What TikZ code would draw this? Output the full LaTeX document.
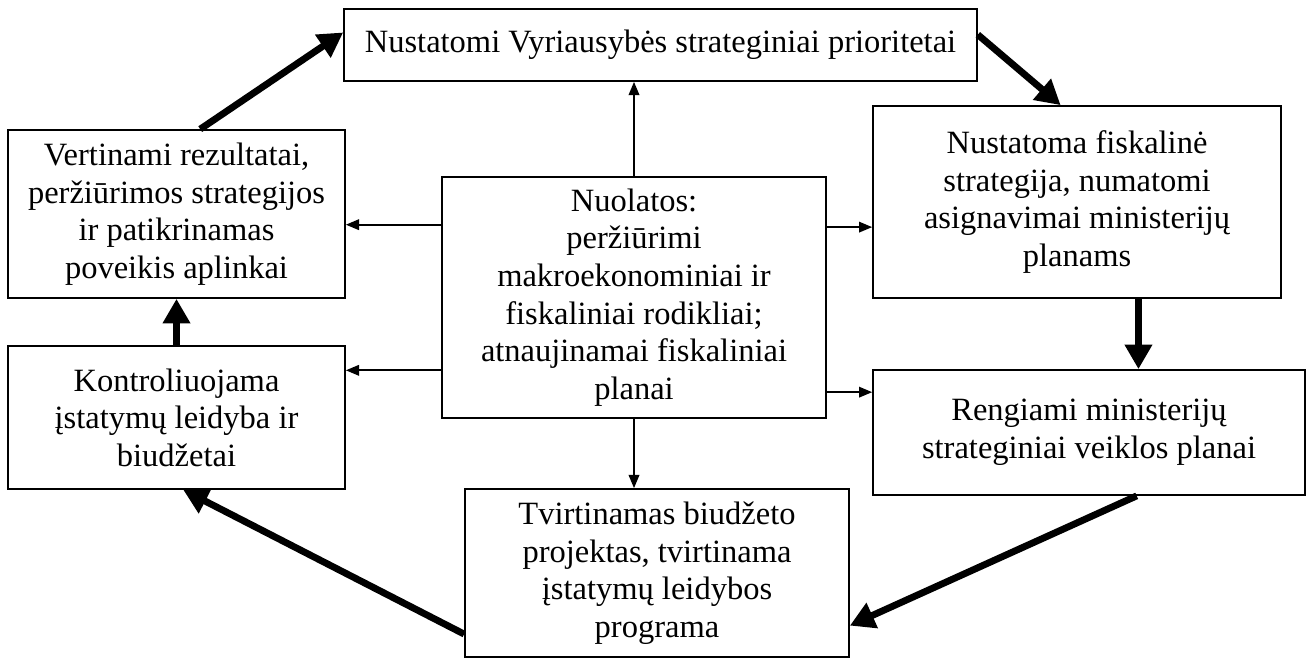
\documentclass[tikz,border=0pt]{standalone}
\usepackage{fontspec}
\setmainfont{Liberation Serif}
\usetikzlibrary{arrows.meta,calc}
\tikzset{
  every picture/.style={
    line width=1pt
  },
  stage/.style={
    draw, rectangle, inner sep=0pt, align=center,
    font=\fontsize{18.5pt}{21.4pt}\selectfont
  },
  thin arrow/.style={
    -{Triangle[length=7.5pt, width=6pt]}
  },
  thick arrow/.style={
    line width=3.9pt,
    -{Triangle[length=14pt, width=15pt]}
  }
}

\begin{document}
\begin{tikzpicture}[x=0.02cm, y=-0.02cm]
  \useasboundingbox (0,0) rectangle (1310,659);
  \node[stage, minimum width=12.66cm, minimum height=1.44cm] (prio) at (660.5,45)
    {\raisebox{3pt}{Nustatomi Vyriausybės strateginiai prioritetai}};
  \node[stage, minimum width=8.16cm, minimum height=3.84cm] (fiskal) at (1077,202)
    {Nustatoma fiskalinė\\strategija, numatomi\\asignavimai ministerijų\\planams};
  \node[stage, minimum width=8.64cm, minimum height=2.5cm] (planai) at (1089,432.5)
    {Rengiami ministerijų\\strateginiai veiklos planai};
  \node[stage, minimum width=7.68cm, minimum height=3.36cm] (projektas) at (657,573)
    {Tvirtinamas biudžeto\\projektas, tvirtinama\\įstatymų leidybos\\programa};
  \node[stage, minimum width=6.74cm, minimum height=2.86cm] (kontrole) at (176.5,417.5)
    {Kontroliuojama\\įstatymų leidyba ir\\biudžetai};
  \node[stage, minimum width=6.74cm, minimum height=3.36cm] (vertinimas) at (176.5,214)
    {Vertinami rezultatai,\\peržiūrimos strategijos\\ir patikrinamas\\poveikis aplinkai};
  \node[stage, minimum width=7.68cm, minimum height=4.82cm] (nuolatos) at (634,297.5)
    {Nuolatos:\\peržiūrimi\\makroekonominiai ir\\fiskaliniai rodikliai;\\atnaujinamai fiskaliniai\\planai};

  \draw[thin arrow] (nuolatos.north) -- (nuolatos.north |- prio.south);
  \draw[thin arrow] (nuolatos.south) -- (nuolatos.south |- projektas.north);
  \coordinate (w1) at ($(nuolatos.north west)!0.2!(nuolatos.south west)$);
  \coordinate (w2) at ($(nuolatos.north west)!0.8!(nuolatos.south west)$);
  \coordinate (e1) at ($(nuolatos.north east)!0.21!(nuolatos.south east)$);
  \coordinate (e2) at ($(nuolatos.north east)!0.89!(nuolatos.south east)$);
  \draw[thin arrow] (w1) -- (w1 -| vertinimas.east);
  \draw[thin arrow] (w2) -- (w2 -| kontrole.east);
  \draw[thin arrow] (e1) -- (e1 -| fiskal.west);
  \draw[thin arrow] (e2) -- (e2 -| planai.west);

  \draw[thick arrow] ($(vertinimas.north west)!0.57!(vertinimas.north east)$)
    -- ($(prio.north west)!0.33!(prio.south west)$);
  \draw[thick arrow] ($(prio.north east)!0.36!(prio.south east)$)
    -- ($(fiskal.north west)!0.46!(fiskal.north east)$);
  \coordinate (f1) at ($(fiskal.south west)!0.65!(fiskal.south east)$);
  \draw[thick arrow] (f1) -- (f1 |- planai.north);
  \draw[thick arrow] ($(planai.south west)!0.61!(planai.south east)$)
    -- ($(projektas.north east)!0.81!(projektas.south east)$);
  \draw[thick arrow] ($(projektas.north west)!0.86!(projektas.south west)$)
    -- ($(kontrole.south west)!0.52!(kontrole.south east)$);
  \draw[thick arrow] (kontrole.north) -- (kontrole.north |- vertinimas.south);
\end{tikzpicture}
\end{document}
